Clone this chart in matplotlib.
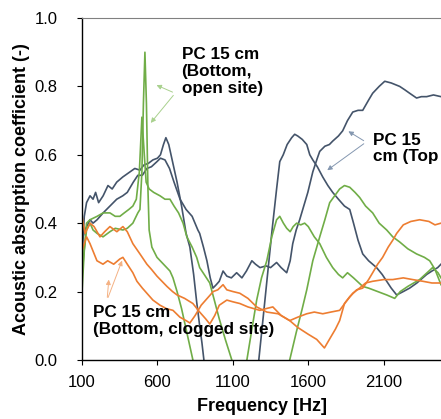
import matplotlib
matplotlib.use("Agg")
import matplotlib.pyplot as plt

plt.rcParams['font.family'] = ['Liberation Sans', 'DejaVu Sans']

# ==== DATA ====

# navy curve, peak at ~650 Hz, drops out of range and comes back
navy_t_freq = [100, 115, 130, 153, 173, 190, 210, 240, 272, 300, 330, 370, 418, 450,
               484, 510, 540, 570, 600, 620, 640, 656, 675, 700, 730, 760, 790, 815,
               840, 860, 880, 895, 908, 930, 1240, 1272, 1300, 1330, 1360, 1390, 1411,
               1434, 1460, 1490, 1510, 1530, 1560, 1590, 1610, 1630, 1660, 1696, 1730,
               1762, 1800, 1840, 1875, 1900, 1930, 1961, 2000, 2053, 2090, 2120, 2150,
               2186, 2230, 2272, 2320, 2385, 2420, 2458, 2480]
navy_t_val = [0.30, 0.42, 0.46, 0.48, 0.47, 0.49, 0.46, 0.48, 0.51, 0.50, 0.52, 0.535, 0.55, 0.56,
              0.555, 0.57, 0.575, 0.585, 0.59, 0.60, 0.63, 0.65, 0.63, 0.58, 0.52, 0.45, 0.37, 0.33,
              0.25, 0.17, 0.10, 0.05, 0.0, -0.10, -0.10, 0.0, 0.12, 0.25, 0.38, 0.50, 0.58,
              0.60, 0.63, 0.65, 0.66, 0.655, 0.645, 0.63, 0.60, 0.585, 0.565, 0.535, 0.51,
              0.49, 0.47, 0.45, 0.44, 0.40, 0.35, 0.31, 0.29, 0.27, 0.25, 0.23, 0.21,
              0.19, 0.20, 0.21, 0.225, 0.25, 0.26, 0.27, 0.28]

# navy curve with trough near 970 Hz and maximum ~0.82 at 2100 Hz
navy_u_freq = [100, 120, 153, 173, 200, 240, 285, 330, 370, 400, 440, 470, 500, 530,
               560, 597, 620, 650, 680, 710, 750, 790, 830, 868, 880, 905, 928, 950,
               968, 990, 1010, 1035, 1060, 1090, 1125, 1160, 1190, 1226, 1250, 1280,
               1320, 1350, 1390, 1420, 1457, 1480, 1497, 1520, 1543, 1570, 1597, 1630,
               1660, 1676, 1710, 1740, 1762, 1800, 1828, 1860, 1895, 1930, 1961, 2000,
               2027, 2070, 2107, 2150, 2206, 2240, 2272, 2318, 2350, 2385, 2430, 2480]
navy_u_val = [0.35, 0.38, 0.41, 0.40, 0.41, 0.43, 0.45, 0.47, 0.48, 0.49, 0.52, 0.54, 0.54, 0.56,
              0.565, 0.58, 0.59, 0.585, 0.56, 0.52, 0.47, 0.44, 0.42, 0.38, 0.37, 0.33, 0.29, 0.24,
              0.21, 0.22, 0.23, 0.26, 0.245, 0.24, 0.255, 0.24, 0.26, 0.29, 0.28, 0.27,
              0.275, 0.27, 0.285, 0.27, 0.255, 0.29, 0.34, 0.38, 0.41, 0.45, 0.49, 0.55,
              0.59, 0.61, 0.625, 0.63, 0.64, 0.655, 0.67, 0.70, 0.725, 0.73, 0.73, 0.76,
              0.78, 0.80, 0.815, 0.81, 0.80, 0.79, 0.78, 0.766, 0.77, 0.77, 0.775, 0.77]

# green curve with the 0.9 peak
green_p_freq = [100, 115, 130, 153, 173, 200, 239, 285, 320, 371, 400, 437, 470, 484,
                497, 507, 517, 527, 537, 545, 563, 597, 640, 683, 703, 730, 760, 790,
                815, 835, 850]
green_p_val = [0.20, 0.32, 0.38, 0.40, 0.38, 0.37, 0.36, 0.375, 0.385, 0.38, 0.385, 0.40, 0.43, 0.44,
               0.55, 0.75, 0.90, 0.75, 0.50, 0.38, 0.33, 0.30, 0.28, 0.26, 0.24, 0.20, 0.15, 0.09,
               0.04, 0.0, -0.05]

# green curve with the 0.71 peak
green_q_freq = [100, 130, 153, 200, 240, 285, 320, 351, 380, 410, 437, 460, 480, 497,
                510, 525, 545, 575, 617, 650, 683, 710, 740, 770, 795, 830, 860, 880,
                910, 947, 980, 1010, 1050, 1093, 1110]
green_q_val = [0.25, 0.40, 0.41, 0.42, 0.43, 0.43, 0.42, 0.42, 0.43, 0.44, 0.45, 0.47, 0.55, 0.71,
               0.62, 0.52, 0.50, 0.49, 0.48, 0.47, 0.47, 0.45, 0.43, 0.40, 0.36, 0.33, 0.30, 0.27,
               0.25, 0.225, 0.17, 0.12, 0.06, 0.0, -0.05]

# green curve coming back at ~1190 Hz
green_r_freq = [1150, 1193, 1230, 1258, 1290, 1325, 1358, 1390, 1411, 1435, 1457, 1480,
                1500, 1523, 1550, 1576, 1600, 1640, 1676, 1720, 1762, 1800, 1828, 1860,
                1900, 1961, 2000, 2060, 2120, 2173, 2210, 2260, 2338, 2400, 2424, 2460, 2480]
green_r_val = [-0.10, 0.0, 0.10, 0.175, 0.24, 0.29, 0.36, 0.41, 0.42, 0.40, 0.385, 0.375,
               0.39, 0.40, 0.395, 0.40, 0.39, 0.36, 0.34, 0.30, 0.27, 0.25, 0.24, 0.255,
               0.24, 0.215, 0.21, 0.20, 0.19, 0.18, 0.20, 0.215, 0.235, 0.26, 0.27, 0.255, 0.24]

# green curve coming back at ~1480 Hz
green_s_freq = [1440, 1477, 1520, 1560, 1590, 1630, 1676, 1710, 1742, 1775, 1808, 1840,
                1875, 1910, 1941, 1980, 2027, 2070, 2120, 2160, 2206, 2260, 2318, 2370,
                2405, 2440, 2480]
green_s_val = [-0.10, 0.0, 0.08, 0.15, 0.205, 0.29, 0.36, 0.41, 0.46, 0.48, 0.50, 0.51,
               0.505, 0.49, 0.475, 0.45, 0.43, 0.40, 0.38, 0.36, 0.345, 0.325, 0.31, 0.30,
               0.29, 0.265, 0.22]

# orange curve ending at ~0.40
orange_l_freq = [100, 130, 153, 199, 239, 270, 310, 350, 371, 400, 437, 464, 500, 530,
                 570, 617, 660, 703, 749, 790, 815, 850, 890, 930, 970, 1000, 1035, 1060,
                 1100, 1146, 1200, 1258, 1325, 1400, 1477, 1530, 1600, 1656, 1707, 1740,
                 1780, 1808, 1840, 1875, 1921, 1961, 2000, 2027, 2060, 2093, 2130, 2160,
                 2186, 2230, 2280, 2338, 2400, 2440, 2480]
orange_l_val = [0.32, 0.36, 0.34, 0.29, 0.28, 0.29, 0.28, 0.295, 0.30, 0.28, 0.255, 0.23, 0.21, 0.195,
                0.175, 0.16, 0.15, 0.145, 0.125, 0.115, 0.108, 0.13, 0.16, 0.18, 0.20, 0.205, 0.22, 0.205,
                0.20, 0.195, 0.18, 0.155, 0.14, 0.135, 0.115, 0.095, 0.075, 0.06, 0.035, 0.06,
                0.09, 0.115, 0.165, 0.185, 0.205, 0.21, 0.235, 0.255, 0.28, 0.30, 0.33, 0.35,
                0.37, 0.395, 0.405, 0.41, 0.405, 0.395, 0.40]

# orange curve ending at ~0.22
orange_m_freq = [100, 120, 153, 180, 219, 250, 285, 331, 371, 400, 437, 484, 530, 560,
                 597, 630, 663, 700, 730, 780, 835, 880, 920, 947, 980, 1010, 1060, 1100,
                 1146, 1200, 1278, 1320, 1365, 1420, 1477, 1530, 1590, 1640, 1696, 1750,
                 1808, 1850, 1895, 1940, 1980, 2027, 2100, 2160, 2230, 2292, 2360, 2420, 2480]
orange_m_val = [0.42, 0.37, 0.40, 0.39, 0.36, 0.375, 0.39, 0.375, 0.39, 0.375, 0.34, 0.31, 0.28, 0.265,
                0.245, 0.23, 0.215, 0.20, 0.19, 0.18, 0.165, 0.14, 0.12, 0.105, 0.13, 0.16, 0.175, 0.17,
                0.165, 0.155, 0.145, 0.15, 0.155, 0.13, 0.115, 0.125, 0.135, 0.14, 0.135, 0.14,
                0.145, 0.17, 0.195, 0.21, 0.225, 0.23, 0.235, 0.235, 0.24, 0.235, 0.23, 0.225, 0.225]

x_ticks = [100, 600, 1100, 1600, 2100]
y_ticks = [0.0, 0.2, 0.4, 0.6, 0.8, 1.0]

navy = '#44546A'
green = '#70AD47'
orange = '#ED7D31'

# ==== PLOT ====

fig = plt.figure(figsize=(4.41, 4.19), dpi=100)
ax = fig.add_axes([0.186, 0.141, 0.814, 0.816])

lw = 1.2
ax.plot(navy_t_freq, navy_t_val, color=navy, lw=lw)
ax.plot(navy_u_freq, navy_u_val, color=navy, lw=lw)
ax.plot(green_p_freq, green_p_val, color=green, lw=lw)
ax.plot(green_q_freq, green_q_val, color=green, lw=lw)
ax.plot(green_r_freq, green_r_val, color=green, lw=lw)
ax.plot(green_s_freq, green_s_val, color=green, lw=lw)
ax.plot(orange_l_freq, orange_l_val, color=orange, lw=lw)
ax.plot(orange_m_freq, orange_m_val, color=orange, lw=lw)

ax.set_xlim(100, 2480)
ax.set_ylim(0, 1)
ax.set_xticks(x_ticks)
ax.set_xticklabels([str(t) for t in x_ticks])
ax.set_yticks(y_ticks)
ax.set_yticklabels(['%.1f' % t for t in y_ticks])
ax.tick_params(axis='both', labelsize=12, direction='out', length=3.5, width=0.8)
ax.tick_params(axis='y', pad=14)
ax.tick_params(axis='x', pad=7)

ax.spines['right'].set_visible(False)
ax.spines['top'].set_color('#808080')
ax.spines['top'].set_linewidth(0.8)
ax.spines['left'].set_linewidth(1.0)
ax.spines['bottom'].set_linewidth(1.0)

ax.set_xlabel('Frequency [Hz]', fontsize=13, fontweight='bold', labelpad=6)
ax.set_ylabel('Acoustic absorption coefficient (-)', fontsize=13, fontweight='bold', labelpad=3)

# annotations
ax.text(760, 0.915, 'PC 15 cm\n(Bottom,\nopen site)', fontsize=12.3, fontweight='bold',
        va='top', ha='left', linespacing=1.15)
for tx, ty in [(577, 0.807), (544, 0.687)]:
    ax.annotate('', xy=(tx, ty), xytext=(717, 0.78),
                arrowprops=dict(arrowstyle='-|>', color='#A9D18E', lw=0.7, mutation_scale=7))

# the reference label is cut at the right edge after "(Top"
ax.text(2030, 0.665, 'PC 15\ncm (Top', fontsize=12.3, fontweight='bold',
        va='top', ha='left', linespacing=1.15)
for tx, ty in [(1850, 0.673), (1711, 0.55)]:
    ax.annotate('', xy=(tx, ty), xytext=(1983, 0.637),
                arrowprops=dict(arrowstyle='-|>', color='#8497B0', lw=0.7, mutation_scale=7))

ax.text(173, 0.16, 'PC 15 cm\n(Bottom, clogged site)', fontsize=12.3, fontweight='bold',
        va='top', ha='left', linespacing=1.15)
for tx, ty in [(279, 0.243), (372, 0.298)]:
    ax.annotate('', xy=(tx, ty), xytext=(266, 0.175),
                arrowprops=dict(arrowstyle='-|>', color='#F4B183', lw=0.7, mutation_scale=7))

fig.savefig('out.png', dpi=100)
